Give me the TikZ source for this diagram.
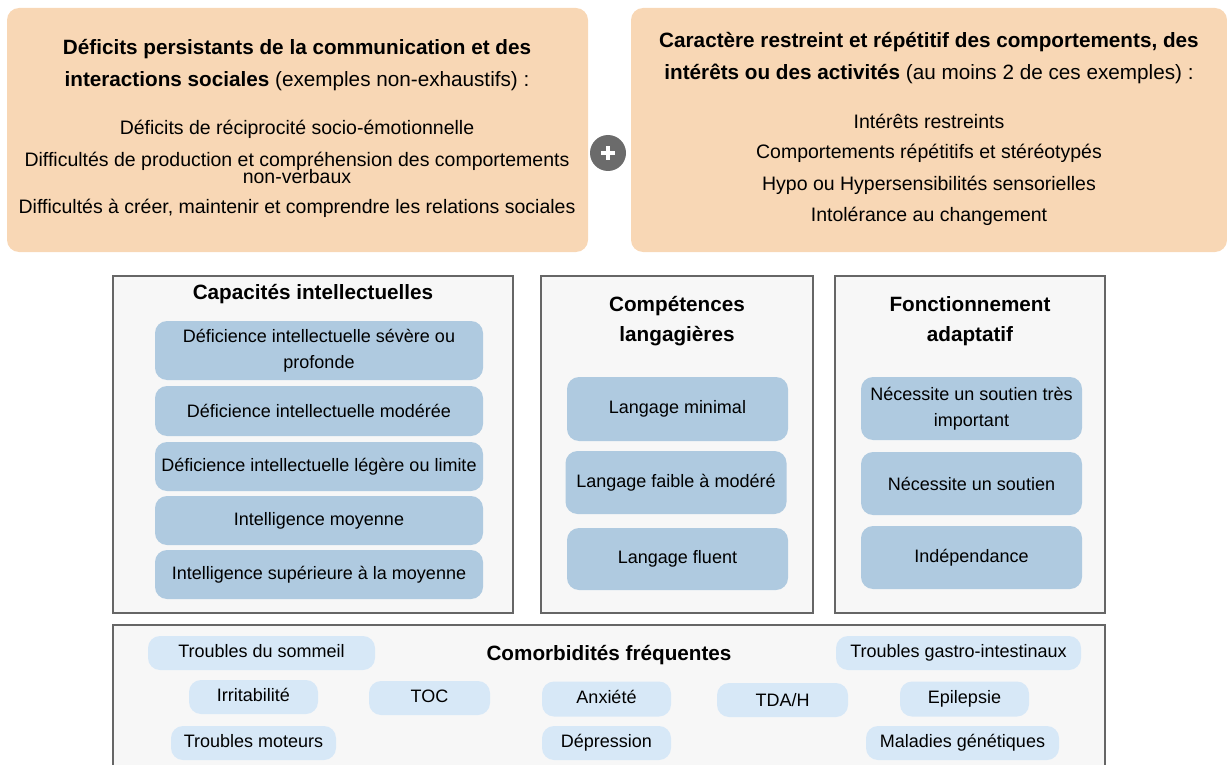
\documentclass[tikz,border=0pt]{standalone}
\usepackage{fontspec}
\setmainfont{Liberation Sans}
\definecolor{peach}{HTML}{F8D7B5}
\definecolor{panelfill}{HTML}{F7F7F7}
\definecolor{panelline}{HTML}{666666}
\definecolor{itemblue}{HTML}{AFCAE0}
\definecolor{pillblue}{HTML}{D7E8F7}
\definecolor{plusgray}{HTML}{6B6B6B}
\tikzset{
  topbox/.style={fill=peach, draw=none, rounded corners=12pt, inner sep=0pt},
  panel/.style={fill=panelfill, draw=panelline, line width=1.4pt, inner sep=0pt},
  itembox/.style={fill=itemblue, draw=none, rounded corners=12pt, align=center,
    inner sep=0pt, font=\fontsize{18}{25.5}\selectfont},
  pill/.style={fill=pillblue, draw=none, rounded corners=12pt, align=center,
    inner sep=0pt, minimum height=34pt, font=\fontsize{18}{22}\selectfont},
  heading/.style={align=center, inner sep=0pt, font=\bfseries\fontsize{20.7}{30.5}\selectfont},
  toptitle/.style={align=center, inner sep=0pt, font=\fontsize{20.7}{31.5}\selectfont},
  topitem/.style={align=center, inner sep=0pt, font=\fontsize{19.5}{24}\selectfont},
}
\begin{document}
\begin{tikzpicture}[x=1pt, y=-1pt]
\useasboundingbox (0,0) rectangle (1227,765);

% top boxes
\node[topbox, minimum width=581pt, minimum height=244pt] (deficits) at (297.5,130) {};
\node[topbox, minimum width=596pt, minimum height=244pt] (restreint) at (929,130) {};

\node[toptitle] (deftitle) at (297,65) {\textbf{Déficits persistants de la communication et des}\\
  \textbf{interactions sociales} (exemples non-exhaustifs) :};
\node[topitem] (def1) at (297,129) {Déficits de réciprocité socio-émotionnelle};
\node[topitem] (def2a) at (297,161) {Difficultés de production et compréhension des comportements};
\node[topitem] (def2b) at (297,177) {non-verbaux};
\node[topitem] (def3) at (297,208) {Difficultés à créer, maintenir et comprendre les relations sociales};

\node[toptitle] (restitle) at (929,58) {\textbf{Caractère restreint et répétitif des comportements, des}\\
  \textbf{intérêts ou des activités} (au moins 2 de ces exemples) :};
\node[topitem] (res1) at (929,121) {Intérêts restreints};
\node[topitem] (res2) at (929,153) {Comportements répétitifs et stéréotypés};
\node[topitem] (res3) at (929,185) {Hypo ou Hypersensibilités sensorielles};
\node[topitem] (res4) at (929,216) {Intolérance au changement};

% plus sign
\node[circle, fill=plusgray, minimum size=36pt, inner sep=0pt] (plus) at (608,153) {};
\draw[white, line width=4.5pt] ([xshift=-7pt]plus.center) -- ([xshift=7pt]plus.center);
\draw[white, line width=4.5pt] ([yshift=-7pt]plus.center) -- ([yshift=7pt]plus.center);

% panels
\node[panel, minimum width=400pt, minimum height=337pt] (capacites) at (313,444.5) {};
\node[panel, minimum width=272pt, minimum height=337pt] (langage) at (677,444.5) {};
\node[panel, minimum width=270pt, minimum height=337pt] (fonction) at (970,444.5) {};

\node[heading] (captitle) at (313,294) {Capacités intellectuelles};
\node[heading] (langtitle) at (677,321) {Compétences\\langagières};
\node[heading] (fonctitle) at (970,321) {Fonctionnement\\adaptatif};

\node[itembox, minimum width=328pt, minimum height=59pt] (ci1) at (319,350.5) {Déficience intellectuelle sévère ou\\profonde};
\node[itembox, minimum width=328pt, minimum height=50pt] (ci2) at (319,411) {Déficience intellectuelle modérée};
\node[itembox, minimum width=328pt, minimum height=49pt] (ci3) at (319,466.5) {Déficience intellectuelle légère ou limite};
\node[itembox, minimum width=328pt, minimum height=49pt] (ci4) at (319,520.5) {Intelligence moyenne};
\node[itembox, minimum width=328pt, minimum height=49pt] (ci5) at (319,574.5) {Intelligence supérieure à la moyenne};

\node[itembox, minimum width=221pt, minimum height=64pt] (lm1) at (677.5,409) {Langage minimal};
\node[itembox, minimum width=221pt, minimum height=63pt] (lm2) at (676,482.5) {Langage faible à modéré};
\node[itembox, minimum width=221pt, minimum height=62pt] (lm3) at (677.5,559) {Langage fluent};

\node[itembox, minimum width=221pt, minimum height=63pt] (fa1) at (971.5,408.5) {Nécessite un soutien très\\important};
\node[itembox, minimum width=221pt, minimum height=63pt] (fa2) at (971.5,483.5) {Nécessite un soutien};
\node[itembox, minimum width=221pt, minimum height=63pt] (fa3) at (971.5,557.5) {Indépendance};

% comorbidities
\node[panel, minimum width=992pt, minimum height=160pt] (comorb) at (609,705) {};
\node[heading] (comtitle) at (609,655) {Comorbidités fréquentes};

\node[pill, minimum width=227pt] (sommeil) at (261.5,653) {Troubles du sommeil\vphantom{g}};
\node[pill, minimum width=245pt] (gastro) at (958.5,653) {Troubles gastro-intestinaux};
\node[pill, minimum width=129pt] (irrit) at (253.5,697) {Irritabilité\vphantom{g}};
\node[pill, minimum width=121pt] (toc) at (429.5,698) {TOC\vphantom{g}};
\node[pill, minimum width=129pt, minimum height=35pt] (anx) at (606.5,699) {Anxiété\vphantom{g}};
\node[pill, minimum width=131pt] (tdah) at (782.5,700) {TDA/H};
\node[pill, minimum width=129pt, minimum height=35pt] (epi) at (964.5,699) {Epilepsie};
\node[pill, minimum width=165pt] (moteurs) at (253.5,743) {Troubles moteurs\vphantom{g}};
\node[pill, minimum width=129pt] (dep) at (606.5,743) {Dépression};
\node[pill, minimum width=193pt] (malad) at (962.5,743) {Maladies génétiques};
\end{tikzpicture}
\end{document}
